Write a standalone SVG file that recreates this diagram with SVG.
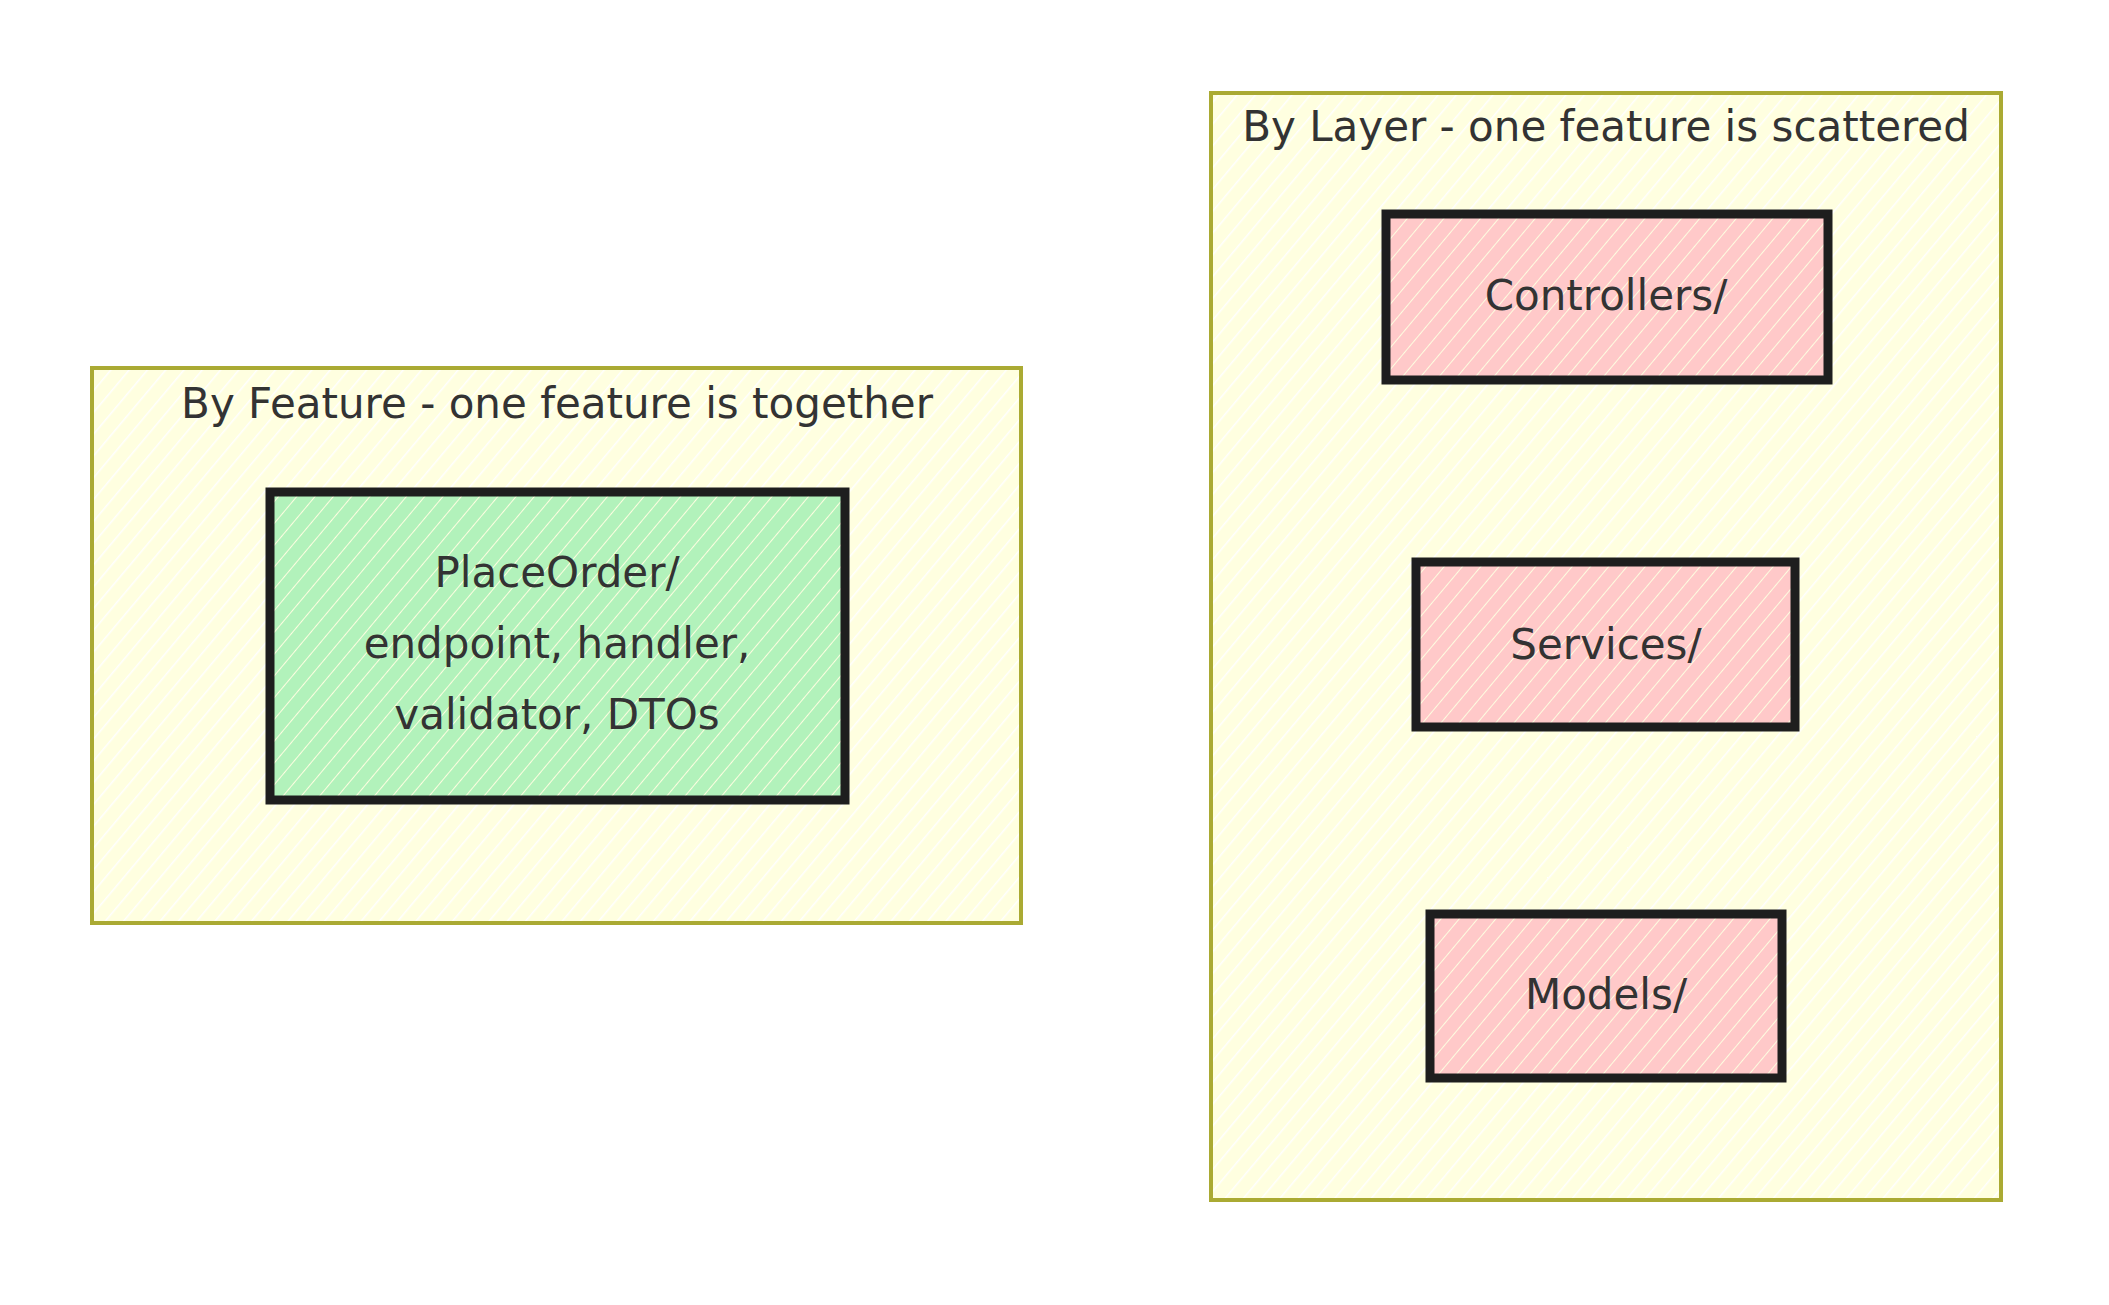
<svg xmlns="http://www.w3.org/2000/svg" width="2109" height="1305" viewBox="0 0 2109 1305">
<defs>
<pattern id="hy" patternUnits="userSpaceOnUse" width="14" height="14" patternTransform="rotate(40)">
<rect width="14" height="14" fill="#ffffe0"/><line x1="0" y1="0" x2="0" y2="14" stroke="#ffffff" stroke-width="3"/></pattern>
<pattern id="hg" patternUnits="userSpaceOnUse" width="14" height="14" patternTransform="rotate(40)">
<rect width="14" height="14" fill="#b2f2bb"/><line x1="0" y1="0" x2="0" y2="14" stroke="#fdfde0" stroke-width="2"/></pattern>
<pattern id="hr" patternUnits="userSpaceOnUse" width="14" height="14" patternTransform="rotate(40)">
<rect width="14" height="14" fill="#ffc9c9"/><line x1="0" y1="0" x2="0" y2="14" stroke="#fdfde0" stroke-width="2"/></pattern>
</defs>
<style>
.cl{stroke:#aaaa33;stroke-width:4;fill:url(#hy)}
.nd{stroke:#1e1e1e;stroke-width:9}
text{font-family:"DejaVu Sans",sans-serif;font-size:42px;fill:#333;text-anchor:middle}
</style>
<rect width="2109" height="1305" fill="#fff"/>
<g id="cluster-feature"><rect class="cl" x="92" y="368" width="929" height="555"/><text x="557" y="418">By Feature - one feature is together</text></g>
<g id="cluster-layer"><rect class="cl" x="1211" y="93" width="790" height="1107"/><text x="1606" y="141">By Layer - one feature is scattered</text></g>
<g id="placeorder"><rect class="nd" fill="url(#hg)" x="270" y="492" width="575" height="308"/>
<text x="557" y="587">PlaceOrder/</text><text x="557" y="658">endpoint, handler,</text><text x="557" y="729">validator, DTOs</text></g>
<g id="controllers"><rect class="nd" fill="url(#hr)" x="1386" y="214" width="442" height="166"/><text x="1606" y="310">Controllers/</text></g>
<g id="services"><rect class="nd" fill="url(#hr)" x="1416" y="562" width="379" height="165"/><text x="1606" y="659">Services/</text></g>
<g id="models"><rect class="nd" fill="url(#hr)" x="1430" y="914" width="352" height="164"/><text x="1606" y="1009">Models/</text></g>
<g id="connectors"/>
</svg>
